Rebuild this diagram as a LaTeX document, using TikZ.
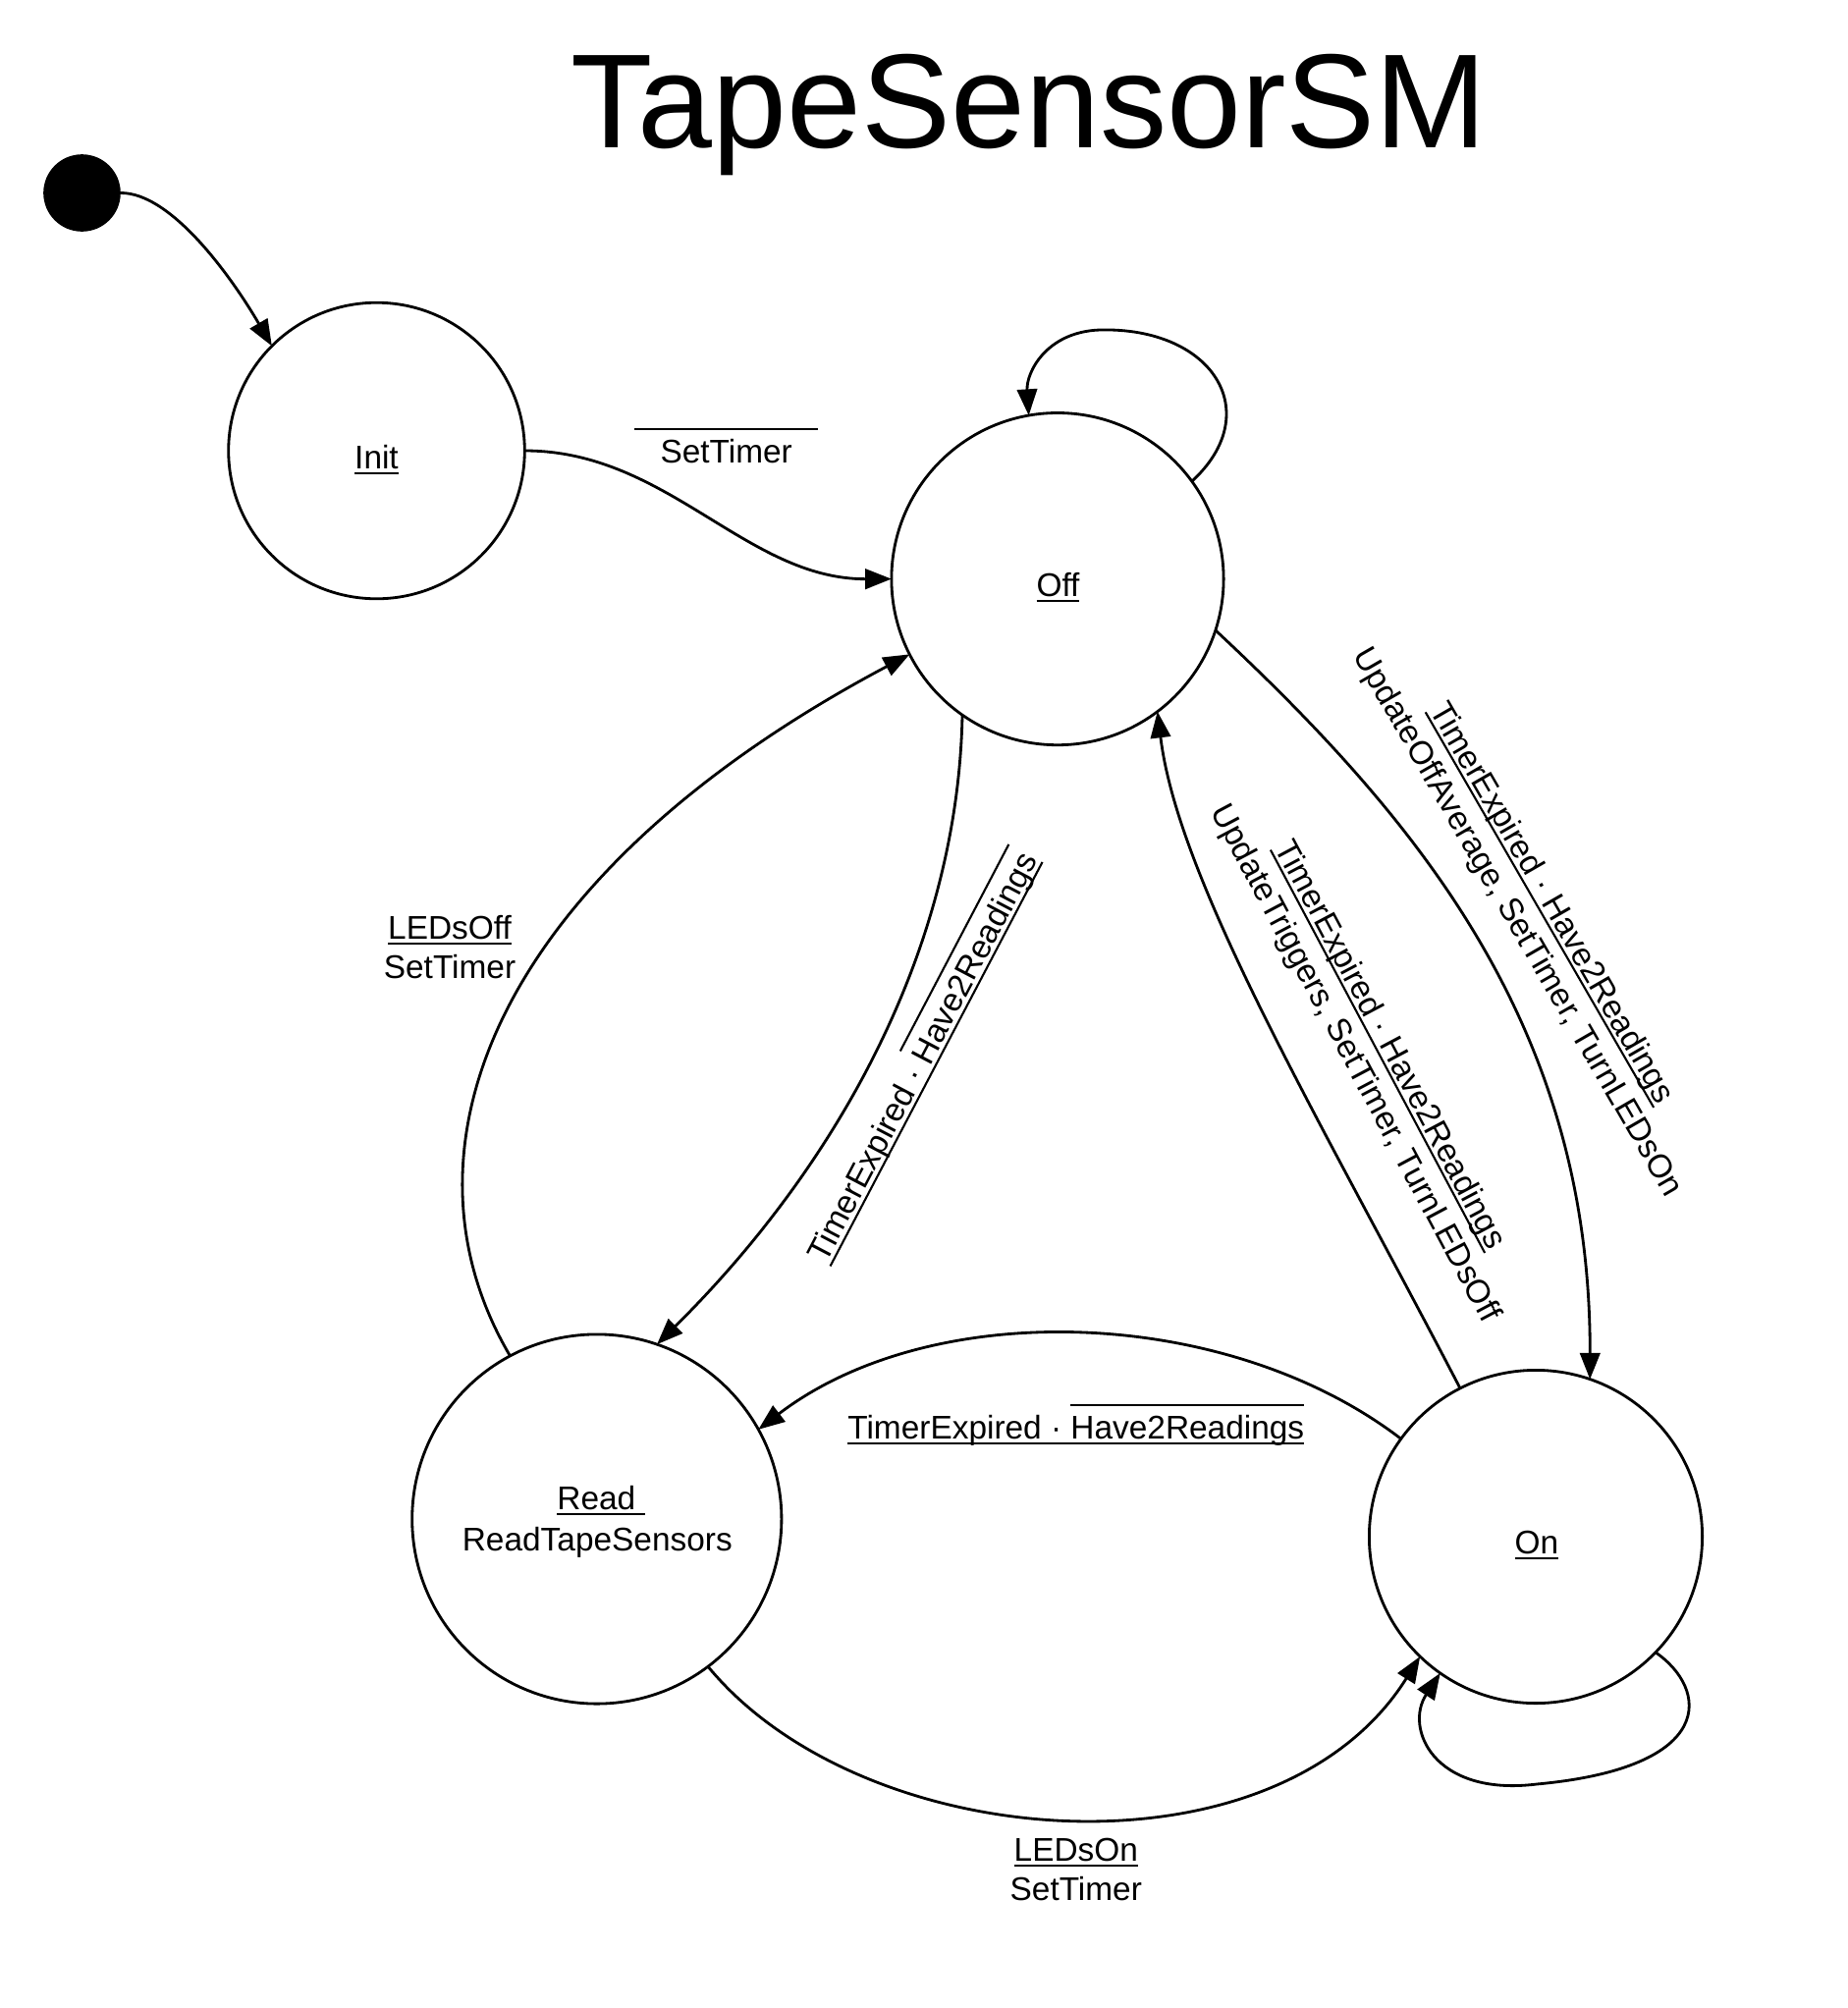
\documentclass[tikz,border=0pt]{standalone}
\usepackage{fontspec}
\setmainfont{Liberation Sans}
\usetikzlibrary{arrows.meta}
\newsavebox\ulbox
\newsavebox\olbox
\newcommand\ulin[1]{\sbox\ulbox{#1}\rlap{\rule[-1.6pt]{\wd\ulbox}{0.6pt}}\usebox\ulbox}
\newcommand\olin[1]{\sbox\olbox{#1}\rlap{\rule[9.4pt]{\wd\olbox}{0.6pt}}\usebox\olbox}
\newcommand\olinwide[2]{\sbox\olbox{#2}\makebox[\wd\olbox]{\makebox[0pt]{\rule[9.5pt]{#1}{0.6pt}}}\llap{\usebox\olbox}}
\tikzset{
  state/.style={circle, draw, line width=0.8pt, inner sep=0pt, outer sep=0pt},
  lbl/.style={font=\fontsize{9.5pt}{11.4pt}\selectfont, inner sep=0pt},
  edge/.style={line width=0.8pt, -{Triangle[length=7.6pt,width=5.8pt]}},
}
\begin{document}
\begin{tikzpicture}[x=0.01cm, y=-0.01cm]
\useasboundingbox (0,0) rectangle (1881,2045);

% title
\node[font=\fontsize{38.8pt}{40pt}\selectfont, inner sep=0pt, anchor=base] (title) at (1048,150) {TapeSensorSM};

% initial pseudo-state
\node[circle, fill=black, inner sep=0pt, outer sep=0pt, minimum size=0.786cm] (dot) at (83.5,196.5) {};

% states
\node[state, minimum size=3.014cm] (init) at (383.5,459) {};
\node[state, minimum size=3.38cm] (off) at (1077,589.6) {};
\node[state, minimum size=3.76cm] (read) at (607.8,1547) {};
\node[state, minimum size=3.39cm] (on) at (1564,1565) {};

\node[lbl, anchor=base] (initT) at (383.5,477.5) {\ulin{Init}};
\node[lbl, anchor=base] (offT) at (1077.5,607) {\ulin{Off}};
\node[lbl, anchor=base] (readT) at (612,1537.3) {\ulin{Read\ }};
\node[lbl, anchor=base] (readA) at (608.3,1579) {ReadTapeSensors};
\node[lbl, anchor=base] (onT) at (1565,1582.5) {\ulin{On}};

% transitions
\draw[edge] (dot.east) .. controls (175,196) and (237,284) .. (init.135);
\draw[edge] (init.east) .. controls (680,459) and (760,590) .. (off.west);
\draw[edge] (off.36) .. controls (1290,420) and (1235,333) .. (1120,336)
  .. controls (1065,338) and (1045,380) .. (off.100);
\draw[edge] (off.-125) .. controls (975,980) and (840,1200) .. (read.71.3);
\draw[edge] (read.118.7) .. controls (395,1170) and (505,890) .. (off.207.7);
\draw[edge] (off.-18.5) .. controls (1450,840) and (1620,1050) .. (on.71.4);
\draw[edge] (on.117.4) .. controls (1350,1150) and (1200,900) .. (off.-53.9);
\draw[edge] (on.144.5) .. controls (1250,1330) and (950,1320) .. (read.29.4);
\draw[edge] (read.-53.1) .. controls (880,1890) and (1300,1920) .. (on.-134.6);
\draw[edge] (on.-44.8) .. controls (1740,1720) and (1750,1800) .. (1565,1817)
  .. controls (1460,1830) and (1430,1760) .. (on.-125.4);

% labels
\node[lbl, anchor=base] (lblInitOff) at (739.7,471.7) {\olinwide{53.2pt}{SetTimer}};
\node[lbl, anchor=base] (lblRO1) at (458,956) {\ulin{LEDsOff}};
\node[lbl, anchor=base] (lblRO2) at (458,996.7) {SetTimer};
\node[lbl, anchor=base] (lblRN1) at (1095.8,1895) {\ulin{LEDsOn}};
\node[lbl, anchor=base] (lblRN2) at (1095.8,1935) {SetTimer};
\node[lbl, anchor=base] (lblNR) at (1095.8,1465) {\ulin{TimerExpired · \olin{Have2Readings}}};
\node[lbl, rotate=62.3] (lblOR) at (937,1075) {\ulin{TimerExpired · \olin{Have2Readings}}};
\node[lbl, rotate=-60, align=center] (lblON) at (1562,930) {\ulin{TimerExpired · Have2Readings}\\UpdateOffAverage, SetTimer, TurnLEDsOn};
\node[lbl, rotate=-62, align=center] (lblNO) at (1397,1074) {\ulin{TimerExpired · Have2Readings}\\UpdateTriggers, SetTimer, TurnLEDsOff};
\end{tikzpicture}
\end{document}
